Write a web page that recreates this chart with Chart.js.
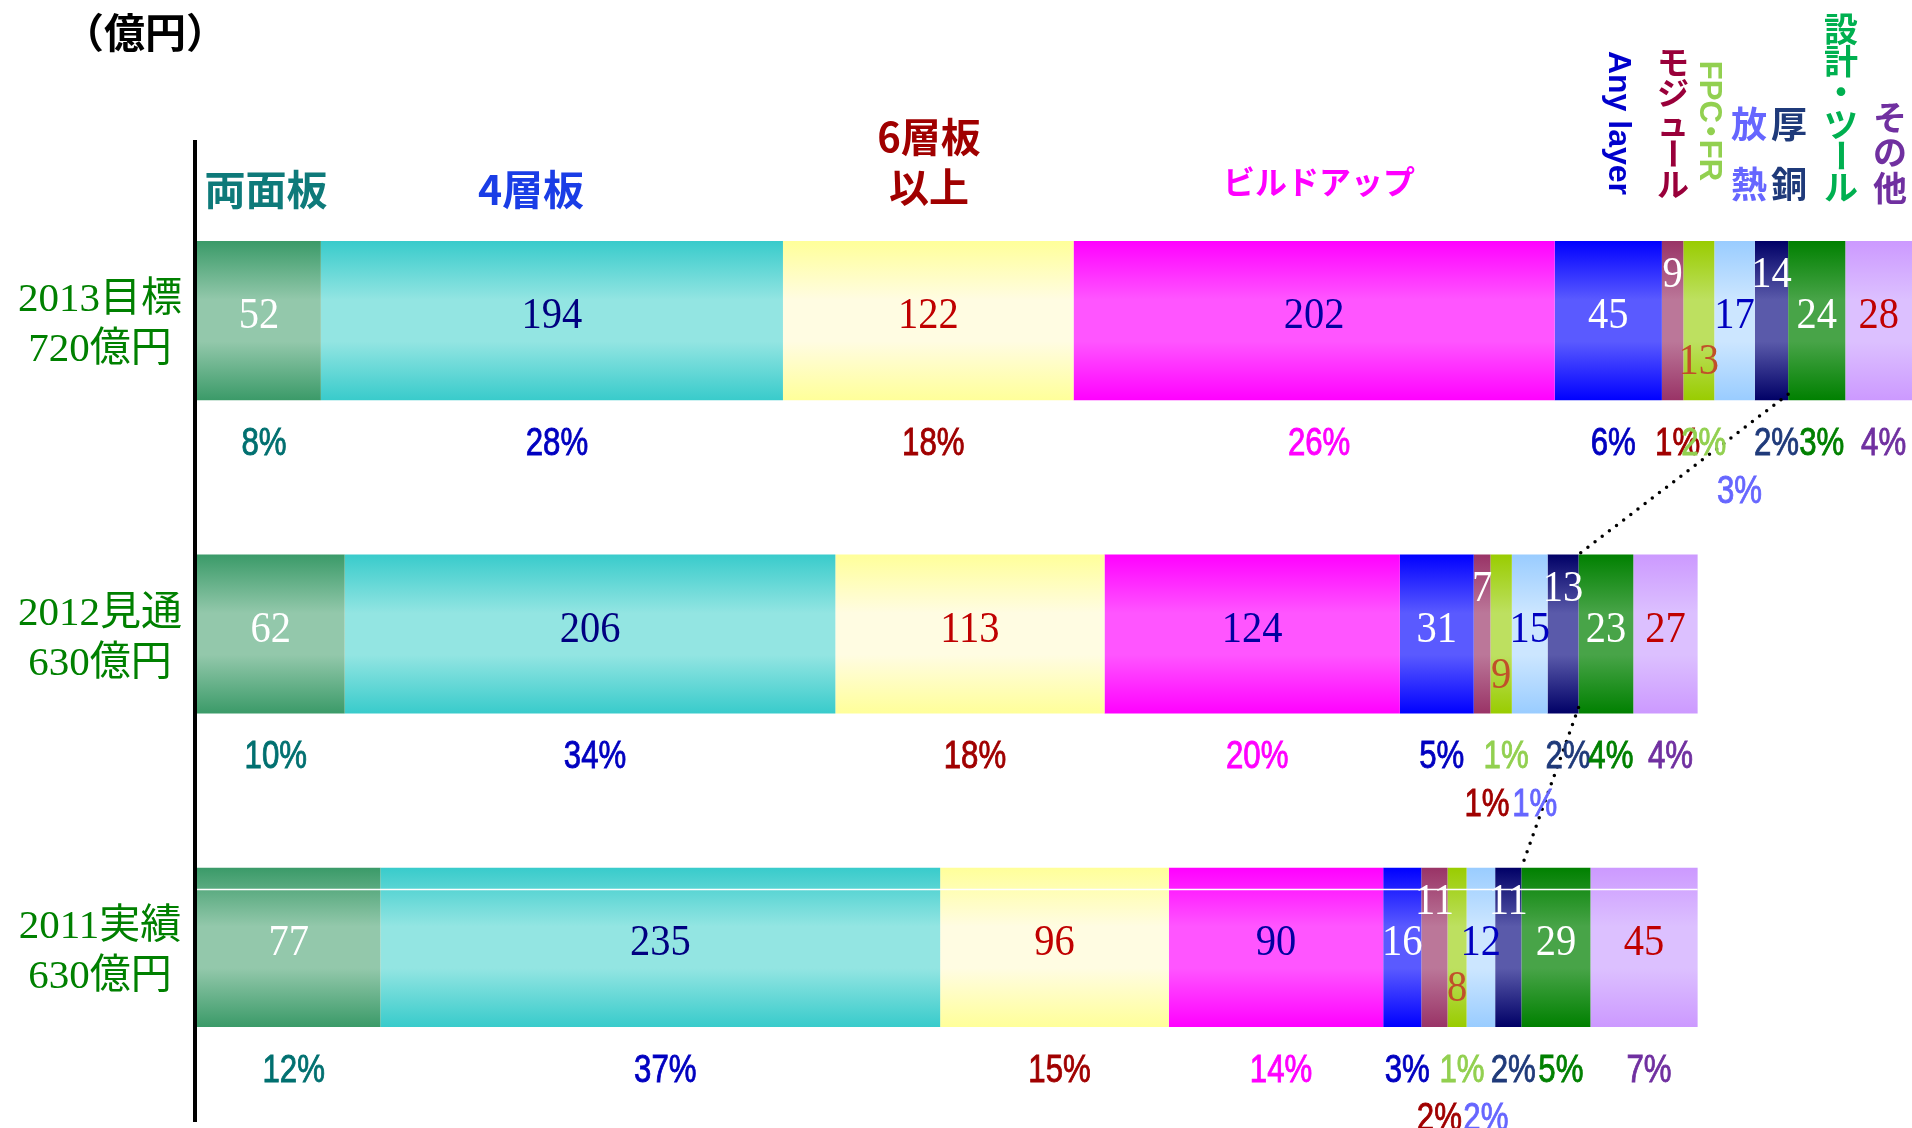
<!DOCTYPE html>
<html>
<head>
<meta charset="utf-8">
<script src="https://cdn.jsdelivr.net/npm/chart.js@4.4.0/dist/chart.umd.min.js"></script>
<style>
  html, body { margin: 0; padding: 0; background: #fff; overflow: hidden; }
  canvas { display: block; }
</style>
</head>
<body>
<canvas id="chart" width="1912" height="1128"></canvas>
<script>
// カテゴリ（年）と合計
const categories = ["2013目標", "2012見通", "2011実績"];
const totals = ["720億円", "630億円", "630億円"];
const unitLabel = "（億円）";

// 系列名
const seriesNames = ["両面板", "4層板", "6層板以上", "ビルドアップ", "Any layer", "モジュール", "FPC・FR", "放熱", "厚銅", "設計・ツール", "その他"];

// 金額（億円） 2013, 2012, 2011 の順
const ryomen = [52, 62, 77];
const sou4 = [194, 206, 235];
const sou6 = [122, 113, 96];
const buildup = [202, 124, 90];
const anyLayer = [45, 31, 16];
const module_ = [9, 7, 11];
const fpc = [13, 9, 8];
const houNetsu = [17, 15, 12];
const atsuDou = [14, 13, 11];
const sekkei = [24, 23, 29];
const sonota = [28, 27, 45];

// 構成比（%）
const ryomenPct = [8, 10, 12];
const sou4Pct = [28, 34, 37];
const sou6Pct = [18, 18, 15];
const buildupPct = [26, 20, 14];
const anyLayerPct = [6, 5, 3];
const modulePct = [1, 1, 2];
const fpcPct = [2, 1, 1];
const houNetsuPct = [3, 1, 2];
const atsuDouPct = [2, 2, 2];
const sekkeiPct = [3, 4, 5];
const sonotaPct = [4, 4, 7];

const values = [ryomen, sou4, sou6, buildup, anyLayer, module_, fpc, houNetsu, atsuDou, sekkei, sonota];
const pcts = [ryomenPct, sou4Pct, sou6Pct, buildupPct, anyLayerPct, modulePct, fpcPct, houNetsuPct, atsuDouPct, sekkeiPct, sonotaPct];

// 見た目の設定
const edgeColors = ["#3a9a68", "#38cbcb", "#ffff99", "#ff00ff", "#0000ff", "#993366", "#99cc00", "#99ccff", "#000066", "#008000", "#cc99ff"];
const lightColors = ["#93c8ab", "#93e5e2", "#fffce2", "#ff55ff", "#5a5aff", "#bb7799", "#bde060", "#cce6ff", "#5a5aaa", "#48a448", "#dcc0ff"];
const valueColors = ["#ffffff", "#000080", "#c00000", "#0000a0", "#ffffff", "#ffffff", "#c0502a", "#0000c0", "#ffffff", "#ffffff", "#c00000"];
const pctColors = ["#007070", "#0000c0", "#a00000", "#ff00ff", "#0000c0", "#a00000", "#92d050", "#6666ff", "#1f3a7a", "#008000", "#7030a0"];
const nameColors = ["#0e7a7a", "#1a3de6", "#a00000", "#ff00ff", "#0000cc", "#99003a", "#92d050", "#6666ff", "#1f3a7a", "#00b050", "#7030a0"];
const valueShift = [-4, -4, -4, -4, -4, -45, 42, -4, -45, -4, -4];

// 系列名の配置
const headerStyles = [
    { mode: "h", x: 266, y: 189, size: 41 },
    { mode: "h", x: 531, y: 189, size: 41 },
    { mode: "h2", x: 929, y: 137, step: 50, size: 40, split: 3 },
    { mode: "h", x: 1319, y: 182, size: 32 },
    { mode: "rot", x: 1618, y: 123, size: 32 },
    { mode: "v", x: 1673, y: 62, step: 30.5, size: 32 },
    { mode: "rot", x: 1709, y: 121, size: 31 },
    { mode: "v", x: 1749, y: 124, step: 60, size: 36 },
    { mode: "v", x: 1789, y: 124, step: 60, size: 36 },
    { mode: "v", x: 1841, y: 29, step: 31.6, size: 34 },
    { mode: "v", x: 1890, y: 117, step: 35.5, size: 34 },
];

function gradFor(i) {
    return (ctx) => {
        const chart = ctx.chart;
        if (!chart.chartArea || ctx.dataIndex === undefined) return edgeColors[i];
        const c = chart.scales.y.getPixelForValue(ctx.dataIndex);
        const half = 80;
        const g = chart.ctx.createLinearGradient(0, c - half, 0, c + half);
        g.addColorStop(0, edgeColors[i]);
        g.addColorStop(0.37, lightColors[i]);
        g.addColorStop(0.63, lightColors[i]);
        g.addColorStop(1, edgeColors[i]);
        return g;
    };
}

const datasets = seriesNames.map((name, i) => ({
    label: name,
    data: values[i],
    backgroundColor: gradFor(i),
    borderWidth: 0,
    barPercentage: 1,
    categoryPercentage: 0.508,
}));

function isLowered(i, j) {
    // 放熱は常に下段、モジュールは2012・2011で下段
    return i === 7 || (i === 5 && j > 0);
}

// 回転した文字列（中黒は半角幅に詰める）
function drawRotated(ctx, text, x, y) {
    ctx.translate(x, y);
    ctx.rotate(Math.PI / 2);
    const parts = text.split("・");
    const dotW = ctx.measureText("・").width * 0.55;
    const widths = parts.map((p) => ctx.measureText(p).width);
    const total = widths.reduce((a, b) => a + b, 0) + dotW * (parts.length - 1);
    let pos = -total / 2;
    ctx.textAlign = "left";
    parts.forEach((p, k) => {
        ctx.fillText(p, pos, 0);
        pos += widths[k];
        if (k < parts.length - 1) {
            ctx.textAlign = "center";
            ctx.fillText("・", pos + dotW / 2, 0);
            ctx.textAlign = "left";
            pos += dotW;
        }
    });
}

const overlay = {
    id: "overlay",
    afterDatasetsDraw(chart) {
        const ctx = chart.ctx;
        const metas = seriesNames.map((n, i) => chart.getDatasetMeta(i));

        // 2011 の帯の白線
        const first = metas[0].data[2];
        const last = metas[10].data[2];
        ctx.save();
        ctx.fillStyle = "#ffffff";
        ctx.fillRect(first.base, first.y - first.height / 2 + 21, last.x - first.base, 1.5);
        ctx.restore();

        // 厚銅をつなぐ点線
        ctx.save();
        ctx.strokeStyle = "#000";
        ctx.lineWidth = 3.5;
        ctx.lineCap = "round";
        ctx.setLineDash([0, 9]);
        const cu = metas[8].data;
        for (let j = 0; j < cu.length - 1; j++) {
            ctx.beginPath();
            ctx.moveTo(cu[j].x, cu[j].y + cu[j].height / 2 - 6);
            ctx.lineTo(cu[j + 1].x, cu[j + 1].y - cu[j + 1].height / 2);
            ctx.stroke();
        }
        ctx.restore();

        // 値ラベルと構成比
        ctx.save();
        ctx.textAlign = "center";
        ctx.textBaseline = "middle";
        metas.forEach((meta, i) => {
            meta.data.forEach((el, j) => {
                const cx = (el.x + el.base) / 2;
                ctx.save();
                ctx.translate(cx, el.y + valueShift[i]);
                ctx.scale(0.9, 1);
                ctx.font = '45px "Liberation Serif", serif';
                ctx.fillStyle = valueColors[i];
                ctx.fillText(String(values[i][j]), 0, 0);
                ctx.restore();

                const bottom = el.y + el.height / 2;
                const py = bottom + (isLowered(i, j) ? 92 : 44);
                ctx.save();
                ctx.translate(cx + 5, py);
                ctx.scale(0.8, 1);
                ctx.font = '39px "Liberation Sans", sans-serif';
                ctx.fillStyle = pctColors[i];
                ctx.strokeStyle = pctColors[i];
                ctx.lineWidth = 0.9;
                const t = pcts[i][j] + "%";
                ctx.fillText(t, 0, 0);
                ctx.strokeText(t, 0, 0);
                ctx.restore();
            });
        });
        ctx.restore();

        // 縦軸の線
        ctx.save();
        ctx.strokeStyle = "#000";
        ctx.lineWidth = 4;
        ctx.beginPath();
        ctx.moveTo(195, 140);
        ctx.lineTo(195, 1122);
        ctx.stroke();
        ctx.restore();

        // カテゴリ名
        ctx.save();
        ctx.textAlign = "center";
        ctx.textBaseline = "middle";
        ctx.fillStyle = "#008000";
        ctx.font = '41px "Liberation Serif", "Noto Sans CJK JP", serif';
        metas[0].data.forEach((el, j) => {
            ctx.fillText(categories[j], 100, el.y + 5 - 25);
            ctx.fillText(totals[j], 100, el.y + 5 + 25);
        });
        ctx.restore();

        // 単位
        ctx.save();
        ctx.textAlign = "center";
        ctx.textBaseline = "middle";
        ctx.fillStyle = "#000";
        ctx.font = 'bold 41px "Noto Sans CJK JP", sans-serif';
        ctx.fillText(unitLabel, 145, 32);
        ctx.restore();

        // 系列名
        headerStyles.forEach((s, i) => {
            const name = seriesNames[i];
            ctx.save();
            ctx.fillStyle = nameColors[i];
            ctx.textAlign = "center";
            ctx.textBaseline = "middle";
            ctx.font = 'bold ' + s.size + 'px "Noto Sans CJK JP", "Liberation Sans", sans-serif';
            if (s.mode === "h") {
                ctx.fillText(name, s.x, s.y);
            } else if (s.mode === "h2") {
                ctx.fillText(name.slice(0, s.split), s.x, s.y);
                ctx.fillText(name.slice(s.split), s.x, s.y + s.step);
            } else if (s.mode === "rot") {
                ctx.font = 'bold ' + s.size + 'px "Liberation Sans", "Noto Sans CJK JP", sans-serif';
                drawRotated(ctx, name, s.x, s.y);
            } else {
                Array.from(name).forEach((ch, k) => {
                    const y = s.y + k * s.step;
                    if (ch === "ー") {
                        ctx.save();
                        ctx.translate(s.x, y);
                        ctx.rotate(Math.PI / 2);
                        ctx.fillText(ch, 0, 0);
                        ctx.restore();
                    } else {
                        ctx.fillText(ch, s.x, y);
                    }
                });
            }
            ctx.restore();
        });
    },
};

new Chart(document.getElementById("chart").getContext("2d"), {
    type: "bar",
    data: { labels: categories, datasets: datasets },
    options: {
        responsive: false,
        animation: false,
        indexAxis: "y",
        layout: { padding: { left: 197, right: 0, top: 164, bottom: 24 } },
        scales: {
            x: { stacked: true, min: 0, max: 720, display: false },
            y: { stacked: true, display: false },
        },
        plugins: {
            legend: { display: false },
            tooltip: { enabled: false },
        },
    },
    plugins: [overlay],
});
</script>
</body>
</html>
